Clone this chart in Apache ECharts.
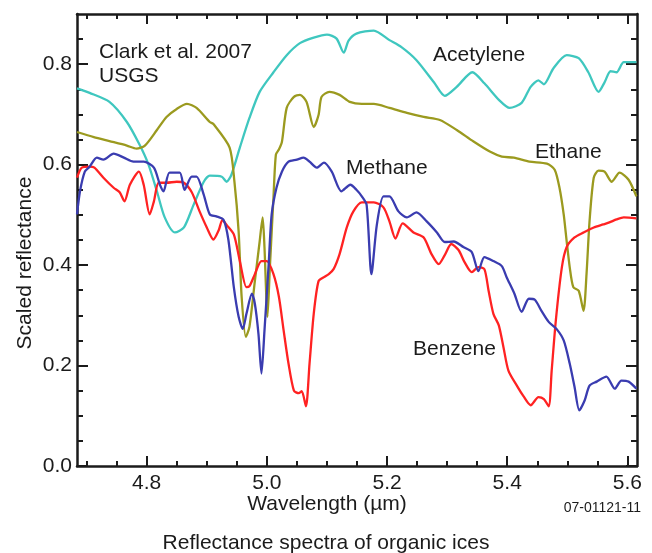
<!DOCTYPE html>
<html>
<head>
<meta charset="utf-8">
<title>Reflectance spectra of organic ices</title>
<script src="https://cdn.jsdelivr.net/npm/echarts@6/dist/echarts.min.js"></script>
<style>
  html, body { margin: 0; padding: 0; background: #ffffff; }
  #chart { width: 652px; height: 553px; }
</style>
</head>
<body>
<div id="chart"></div>
<script>
// Wavelength (µm), scaled reflectance pairs for each ice spectrum
const acetylene = [
  [4.684, 0.752], [4.705, 0.743], [4.738, 0.725], [4.767, 0.685], [4.788, 0.640],
  [4.803, 0.600], [4.817, 0.547], [4.830, 0.495], [4.847, 0.465], [4.862, 0.475],
  [4.878, 0.520], [4.895, 0.566], [4.905, 0.578], [4.925, 0.576], [4.933, 0.566],
  [4.941, 0.580], [4.955, 0.634], [4.971, 0.693], [4.988, 0.745], [5.011, 0.784],
  [5.033, 0.818], [5.055, 0.842], [5.078, 0.853], [5.100, 0.859], [5.116, 0.851],
  [5.128, 0.823], [5.136, 0.847], [5.149, 0.861], [5.178, 0.867], [5.204, 0.848],
  [5.224, 0.834], [5.249, 0.808], [5.278, 0.764], [5.296, 0.737], [5.316, 0.755],
  [5.342, 0.784], [5.362, 0.762], [5.387, 0.728], [5.404, 0.713], [5.424, 0.723],
  [5.439, 0.755], [5.452, 0.768], [5.461, 0.760], [5.477, 0.792], [5.499, 0.818],
  [5.519, 0.812], [5.535, 0.784], [5.552, 0.745], [5.562, 0.764], [5.572, 0.786],
  [5.582, 0.784], [5.594, 0.804], [5.615, 0.804]
];

const ethane = [
  [4.684, 0.665], [4.712, 0.655], [4.738, 0.647], [4.767, 0.638], [4.783, 0.632],
  [4.797, 0.638], [4.817, 0.669], [4.833, 0.695], [4.850, 0.711], [4.867, 0.721],
  [4.883, 0.713], [4.905, 0.685], [4.911, 0.681], [4.938, 0.634], [4.946, 0.566],
  [4.953, 0.467], [4.958, 0.337], [4.965, 0.257], [4.971, 0.277], [4.980, 0.368],
  [4.988, 0.447], [4.993, 0.495], [4.996, 0.436], [5.001, 0.297], [5.005, 0.396],
  [5.011, 0.535], [5.015, 0.620], [5.020, 0.630], [5.025, 0.645], [5.033, 0.713],
  [5.045, 0.735], [5.055, 0.739], [5.066, 0.725], [5.078, 0.675], [5.086, 0.699],
  [5.091, 0.735], [5.104, 0.745], [5.121, 0.739], [5.138, 0.725], [5.158, 0.721],
  [5.178, 0.721], [5.204, 0.713], [5.233, 0.703], [5.261, 0.695], [5.288, 0.689],
  [5.316, 0.669], [5.344, 0.646], [5.371, 0.626], [5.391, 0.616], [5.411, 0.614],
  [5.437, 0.606], [5.466, 0.602], [5.479, 0.590], [5.487, 0.554], [5.494, 0.501],
  [5.499, 0.447], [5.504, 0.396], [5.510, 0.356], [5.519, 0.349], [5.527, 0.309],
  [5.532, 0.382], [5.537, 0.487], [5.544, 0.574], [5.552, 0.588], [5.562, 0.586],
  [5.574, 0.566], [5.587, 0.584], [5.602, 0.570], [5.615, 0.537]
];

const methane = [
  [4.684, 0.501], [4.689, 0.547], [4.697, 0.586], [4.705, 0.596], [4.717, 0.614],
  [4.728, 0.610], [4.745, 0.622], [4.762, 0.614], [4.778, 0.606], [4.795, 0.606],
  [4.812, 0.594], [4.822, 0.560], [4.828, 0.547], [4.838, 0.584], [4.855, 0.584],
  [4.863, 0.550], [4.875, 0.576], [4.883, 0.576], [4.895, 0.540], [4.905, 0.501],
  [4.916, 0.497], [4.928, 0.490], [4.936, 0.450], [4.945, 0.356], [4.953, 0.297],
  [4.960, 0.273], [4.966, 0.303], [4.975, 0.343], [4.980, 0.323], [4.986, 0.263],
  [4.991, 0.184], [4.996, 0.269], [5.003, 0.402], [5.008, 0.501], [5.016, 0.554],
  [5.025, 0.586], [5.036, 0.606], [5.050, 0.610], [5.061, 0.614], [5.071, 0.606],
  [5.083, 0.594], [5.095, 0.604], [5.108, 0.586], [5.124, 0.547], [5.139, 0.560],
  [5.149, 0.550], [5.158, 0.537], [5.166, 0.520], [5.174, 0.382], [5.183, 0.480],
  [5.194, 0.537], [5.204, 0.537], [5.219, 0.507], [5.233, 0.495], [5.249, 0.505],
  [5.266, 0.487], [5.283, 0.465], [5.296, 0.446], [5.311, 0.447], [5.327, 0.436],
  [5.341, 0.426], [5.352, 0.388], [5.362, 0.416], [5.377, 0.408], [5.391, 0.398],
  [5.399, 0.376], [5.412, 0.343], [5.424, 0.307], [5.436, 0.333], [5.446, 0.331],
  [5.457, 0.309], [5.469, 0.287], [5.482, 0.273], [5.494, 0.250], [5.504, 0.204],
  [5.512, 0.158], [5.520, 0.111], [5.529, 0.131], [5.537, 0.160], [5.549, 0.168],
  [5.565, 0.178], [5.579, 0.154], [5.590, 0.170], [5.602, 0.168], [5.615, 0.154]
];

const benzene = [
  [4.684, 0.574], [4.692, 0.594], [4.705, 0.596], [4.713, 0.594], [4.728, 0.574],
  [4.745, 0.554], [4.755, 0.545], [4.763, 0.527], [4.772, 0.560], [4.787, 0.586],
  [4.795, 0.560], [4.805, 0.501], [4.812, 0.527], [4.820, 0.564], [4.833, 0.564],
  [4.850, 0.566], [4.862, 0.564], [4.875, 0.545], [4.888, 0.507], [4.900, 0.475],
  [4.911, 0.451], [4.920, 0.470], [4.926, 0.490], [4.933, 0.480], [4.945, 0.461],
  [4.955, 0.408], [4.966, 0.356], [4.971, 0.358], [4.980, 0.382], [4.991, 0.408],
  [5.000, 0.408], [5.011, 0.382], [5.020, 0.337], [5.028, 0.269], [5.036, 0.204],
  [5.045, 0.150], [5.053, 0.145], [5.058, 0.149], [5.065, 0.119], [5.071, 0.204],
  [5.078, 0.303], [5.086, 0.368], [5.095, 0.376], [5.103, 0.382], [5.111, 0.392],
  [5.121, 0.422], [5.133, 0.475], [5.144, 0.507], [5.158, 0.525], [5.178, 0.525],
  [5.194, 0.515], [5.204, 0.487], [5.214, 0.453], [5.226, 0.483], [5.244, 0.465],
  [5.261, 0.455], [5.274, 0.422], [5.286, 0.402], [5.296, 0.420], [5.307, 0.442],
  [5.319, 0.430], [5.329, 0.406], [5.341, 0.386], [5.352, 0.396], [5.362, 0.392],
  [5.369, 0.349], [5.377, 0.303], [5.386, 0.280], [5.394, 0.235], [5.402, 0.190],
  [5.417, 0.158], [5.427, 0.139], [5.439, 0.121], [5.452, 0.137], [5.461, 0.133],
  [5.469, 0.119], [5.474, 0.190], [5.481, 0.291], [5.491, 0.396], [5.499, 0.436],
  [5.512, 0.455], [5.527, 0.465], [5.544, 0.475], [5.560, 0.481], [5.570, 0.485],
  [5.582, 0.491], [5.594, 0.495], [5.615, 0.493]
];

// Axis ranges and tick positions
const xRange = [4.684, 5.616];
const yRange = [0, 0.9];
const xMajorTicks = [4.8, 5.0, 5.2, 5.4, 5.6];
const xMinorTicks = [4.70, 4.75, 4.85, 4.90, 4.95, 5.05, 5.10, 5.15, 5.25, 5.30, 5.35, 5.45, 5.50, 5.55];
const yMajorTicks = [0, 0.2, 0.4, 0.6, 0.8];
const yMinorTicks = [0.05, 0.1, 0.15, 0.25, 0.3, 0.35, 0.45, 0.5, 0.55, 0.65, 0.7, 0.75, 0.85];

const FONT = '"Liberation Sans", Arial, Helvetica, sans-serif';
const INK = '#1b1b1b';
const AXIS_W = 2.5;

function xAxisDef(position, ticks, length, withLine, withLabels) {
  return {
    type: 'value', position: position, min: xRange[0], max: xRange[1],
    axisLine: { show: withLine, onZero: false, lineStyle: { color: INK, width: AXIS_W } },
    axisTick: { show: true, inside: true, length: length, customValues: ticks,
                lineStyle: { color: INK, width: 2 } },
    axisLabel: withLabels ? {
      show: true, customValues: ticks, margin: 7, color: INK, fontSize: 21, fontFamily: FONT,
      formatter: function (v) { return v.toFixed(1); }
    } : { show: false },
    splitLine: { show: false }
  };
}

function yAxisDef(position, ticks, length, withLine, withLabels) {
  return {
    type: 'value', position: position, min: yRange[0], max: yRange[1],
    axisLine: { show: withLine, onZero: false, lineStyle: { color: INK, width: AXIS_W } },
    axisTick: { show: true, inside: true, length: length, customValues: ticks,
                lineStyle: { color: INK, width: 2 } },
    axisLabel: withLabels ? {
      show: true, customValues: ticks, margin: 5, color: INK, fontSize: 21, fontFamily: FONT,
      formatter: function (v) { return v.toFixed(1); }
    } : { show: false },
    splitLine: { show: false }
  };
}

function spectrum(name, data, color) {
  return {
    name: name, type: 'line', data: data, xAxisIndex: 0, yAxisIndex: 0,
    showSymbol: false, smooth: 0.25, clip: true, animation: false,
    lineStyle: { color: color, width: 2.3 },
    emphasis: { disabled: true }
  };
}

function label(text, x, y, opts) {
  return Object.assign({
    type: 'text', x: x, y: y, silent: true,
    style: { text: text, fill: INK, font: '21px ' + FONT, align: 'left', verticalAlign: 'middle' }
  }, opts || {});
}

const chart = echarts.init(document.getElementById('chart'), null, { renderer: 'canvas' });

chart.setOption({
  animation: false,
  backgroundColor: '#ffffff',
  grid: { left: 77, top: 14, width: 560, height: 452, outerBoundsMode: 'none', containLabel: false },
  xAxis: [
    xAxisDef('bottom', xMajorTicks, 10, true, true),
    xAxisDef('bottom', xMinorTicks, 5, false, false),
    xAxisDef('top', xMajorTicks, 10, true, false),
    xAxisDef('top', xMinorTicks, 5, false, false)
  ],
  yAxis: [
    yAxisDef('left', yMajorTicks, 11, true, true),
    yAxisDef('left', yMinorTicks, 6, false, false),
    yAxisDef('right', yMajorTicks, 11, true, false),
    yAxisDef('right', yMinorTicks, 6, false, false)
  ],
  series: [
    spectrum('Acetylene', acetylene, '#3fc7bf'),
    spectrum('Ethane', ethane, '#9b9a1f'),
    spectrum('Benzene', benzene, '#ff2222'),
    spectrum('Methane', methane, '#3a3cb0')
  ],
  graphic: [
    label('Clark et al. 2007', 99, 52),
    label('USGS', 99, 76),
    label('Acetylene', 433, 55),
    label('Ethane', 535, 152),
    label('Methane', 346, 168),
    label('Benzene', 413, 349),
    label('Wavelength (\u00b5m)', 327, 504, { style: { text: 'Wavelength (\u00b5m)', fill: INK, font: '21px ' + FONT, align: 'center', verticalAlign: 'middle' } }),
    label('07-01121-11', 641, 508, { style: { text: '07-01121-11', fill: INK, font: '14px ' + FONT, align: 'right', verticalAlign: 'middle' } }),
    label('Reflectance spectra of organic ices', 326, 543, { style: { text: 'Reflectance spectra of organic ices', fill: INK, font: '21px ' + FONT, align: 'center', verticalAlign: 'middle' } }),
    {
      type: 'text', x: 25, y: 263, rotation: Math.PI / 2, silent: true,
      style: { text: 'Scaled reflectance', fill: INK, font: '21px ' + FONT, align: 'center', verticalAlign: 'middle' }
    }
  ]
});
</script>
</body>
</html>
